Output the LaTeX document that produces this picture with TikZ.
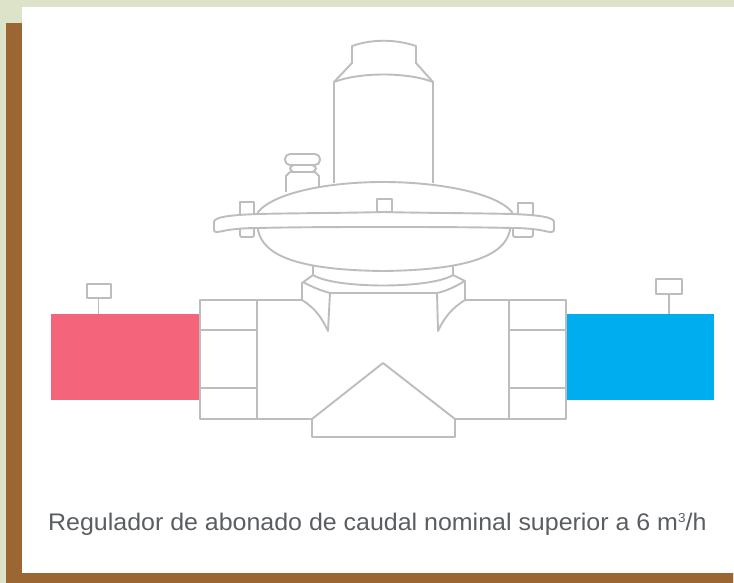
\documentclass[tikz,border=0pt]{standalone}
\usepackage{fontspec}
\setmainfont[FakeStretch=1.04]{Liberation Sans}
\definecolor{bggreen}{HTML}{DDE3C8}
\definecolor{framebrown}{HTML}{9C6632}
\definecolor{linegray}{HTML}{BDBDBD}
\definecolor{pipered}{HTML}{F4647A}
\definecolor{pipeblue}{HTML}{00AEEF}
\definecolor{textgray}{HTML}{5A5E62}
\tikzset{
  part/.style={draw=linegray,line width=1.9pt,line join=round,fill=white},
  wire/.style={draw=linegray,line width=1.9pt,line join=round},
  caption/.style={anchor=base west,inner sep=0pt,text=textgray,font=\fontsize{24}{28}\selectfont}
}
\begin{document}
\begin{tikzpicture}[x=1pt,y=-1pt]
\useasboundingbox (0,0) rectangle (734,583);
% page background and frame
\fill[bggreen] (0,0) rectangle (734,583);
\fill[framebrown] (6,23) rectangle (22,583);
\fill[framebrown] (6,573) rectangle (733,583);
\fill[white] (22,7) rectangle (734,573);
% coloured pipes
\fill[pipered] (51,314) rectangle (200,400);
\fill[pipeblue] (566,314) rectangle (714,400);
% gauges
\draw[wire] (98.5,298) -- (98.5,314);
\draw[wire] (87,284) rectangle (111,298);
\draw[wire] (669,294) -- (669,314);
\draw[wire] (656,279) rectangle (682,294);
% cap
\draw[part] (334,183) -- (334,82) -- (352,63) -- (352,46)
  .. controls (372,39) and (395,39) .. (416,46) -- (416,63) -- (433,82) -- (433,183);
\draw[wire] (334,82) .. controls (360,72) and (407,72) .. (433,82);
% plug
\draw[part] (286,192) -- (286,176) -- (290,172) -- (315,172) -- (319,176) -- (319,188);
\draw[part,rounded corners=4pt] (290,165) rectangle (316,172);
\draw[part,rounded corners=5pt] (285,154) rectangle (320,165);
% nuts below the flange
\draw[part,rounded corners=2pt] (240,226) rectangle (254,237);
\draw[part,rounded corners=2pt] (377,224) rectangle (392,234);
\draw[part,rounded corners=2pt] (513,226) rectangle (533,237);
% lower neck
\draw[part] (313,262) -- (313,275) .. controls (335,289) and (431,289) .. (453,275) -- (453,262);
% dome
\draw[part] (258,212) .. controls (275,192) and (330,182) .. (383,182)
  .. controls (436,182) and (495,192) .. (512,212)
  -- (510,230) .. controls (505,255) and (470,270) .. (383,271)
  .. controls (296,270) and (263,255) .. (258,230) -- cycle;
% bolts
\draw[part] (240,215) -- (240,202) -- (254,202) -- (254,215);
\draw[part] (377,213) -- (377,199) -- (392,199) -- (392,213);
\draw[part] (518,215) -- (518,203) -- (533,203) -- (533,215);
% flange
\draw[part] (214,222) .. controls (214,217) and (230,215) .. (258,214)
  .. controls (300,213) and (350,213) .. (383,212)
  .. controls (420,213) and (470,213) .. (512,214)
  .. controls (538,215) and (554,217) .. (554,222)
  -- (554,230) .. controls (554,233) and (548,232) .. (545,231)
  .. controls (535,229) and (525,228) .. (512,228)
  .. controls (470,227) and (420,227) .. (383,227)
  .. controls (350,227) and (300,227) .. (258,228)
  .. controls (245,228) and (232,229) .. (223,231)
  .. controls (218,232) and (214,233) .. (214,230) -- cycle;
% valve body
\draw[wire] (302,300) -- (200,300) -- (200,419) -- (312,419);
\draw[wire] (465,300) -- (566,300) -- (566,419) -- (455,419);
\draw[wire] (257,300) -- (257,419);
\draw[wire] (509,300) -- (509,419);
\draw[wire] (200,330) -- (257,330);
\draw[wire] (200,388) -- (257,388);
\draw[wire] (509,330) -- (566,330);
\draw[wire] (509,388) -- (566,388);
% seat
\draw[wire] (312,419) -- (383,363) -- (455,419) -- (455,437) -- (312,437) -- cycle;
% yoke
\draw[wire] (302,300) -- (302,283) -- (313,275);
\draw[wire] (465,300) -- (465,281) -- (453,275);
\draw[wire] (303,282) .. controls (312,287) and (322,291) .. (330,293) -- (437,293)
  .. controls (447,291) and (456,286) .. (465,281);
\draw[wire] (302,300) .. controls (315,308) and (322,318) .. (328,331) -- (330,293);
\draw[wire] (465,300) .. controls (452,308) and (444,318) .. (438,331) -- (437,293);
% caption
\node[caption] (cap) at (48,530) {Regulador de abonado de caudal nominal superior a 6 m\raisebox{8pt}{\fontsize{13}{13}\selectfont 3}/h};
\end{tikzpicture}
\end{document}
